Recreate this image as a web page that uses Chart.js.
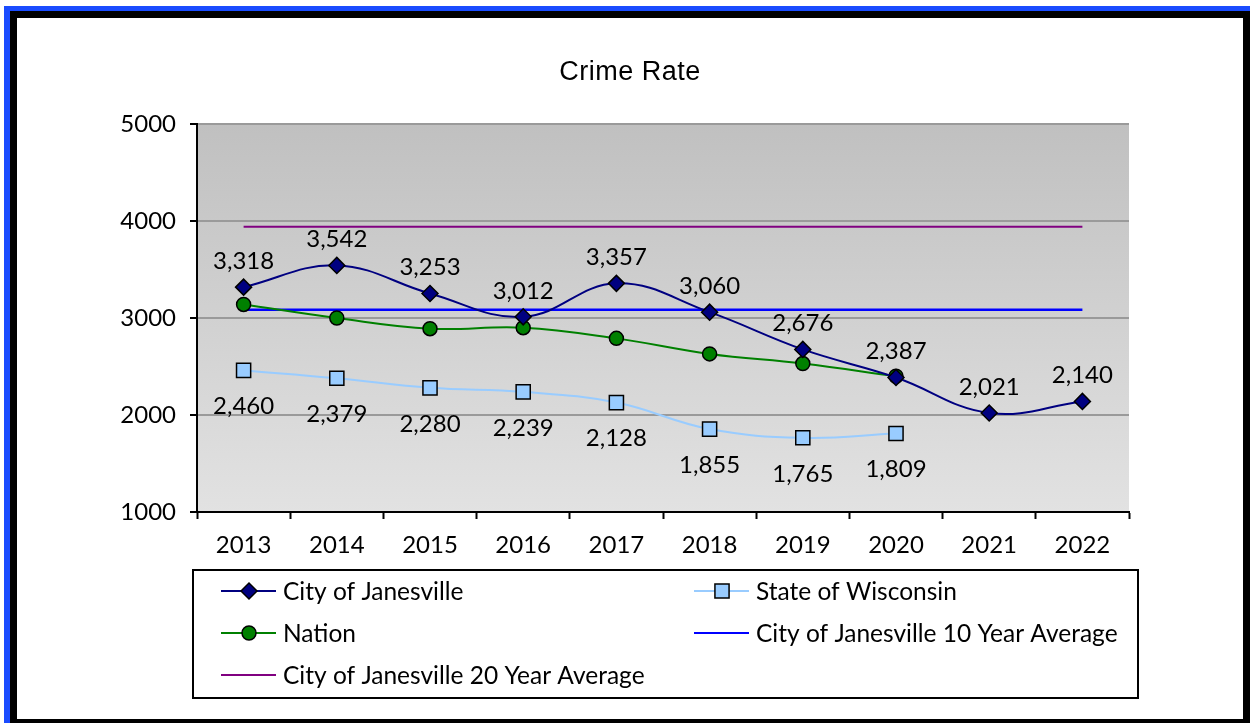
<!DOCTYPE html>
<html><head><meta charset="utf-8">
<script src="https://cdn.jsdelivr.net/npm/chart.js@4.4.0/dist/chart.umd.min.js"></script>
<style>html,body{margin:0;padding:0;background:#fff;overflow:hidden}#wrap{width:1250px;height:723px;position:relative}canvas{display:block}</style>
</head><body><div id="wrap"><canvas id="c" width="1250" height="723"></canvas></div>
<script>
const years = ['2013','2014','2015','2016','2017','2018','2019','2020','2021','2022'];
const janesville = [3318, 3542, 3253, 3012, 3357, 3060, 2676, 2387, 2021, 2140];
const wisconsin = [2460, 2379, 2280, 2239, 2128, 1855, 1765, 1809, null, null];
const nation = [3140, 3000, 2890, 2900, 2790, 2630, 2530, 2400, null, null];
const avg10 = [3085, 3085, 3085, 3085, 3085, 3085, 3085, 3085, 3085, 3085];
const avg20 = [3940, 3940, 3940, 3940, 3940, 3940, 3940, 3940, 3940, 3940];
const yTicks = [1000, 2000, 3000, 4000, 5000];
const titleText = 'Crime Rate';

const LATO = 'Lato, "Open Sans", sans-serif';

function drawMarker(ctx, style, r, x, y, fill) {
  ctx.save();
  ctx.fillStyle = fill; ctx.strokeStyle = '#000'; ctx.lineWidth = 1.5;
  ctx.beginPath();
  if (style === 'rectRot') {
    ctx.moveTo(x - r, y); ctx.lineTo(x, y - r); ctx.lineTo(x + r, y); ctx.lineTo(x, y + r); ctx.closePath();
  } else if (style === 'rect') {
    const s = r * Math.SQRT1_2; ctx.rect(x - s, y - s, 2 * s, 2 * s);
  } else {
    ctx.arc(x, y, r, 0, Math.PI * 2);
  }
  ctx.fill(); ctx.stroke();
  ctx.restore();
}

const framePlugin = {
  id: 'frame',
  beforeDraw(chart) {
    const ctx = chart.ctx, a = chart.chartArea;
    ctx.save();
    ctx.fillStyle = '#fff'; ctx.fillRect(0, 0, 1250, 723);
    ctx.fillStyle = '#1a4cff';
    ctx.fillRect(4, 6, 1246, 5); ctx.fillRect(4, 6, 6, 717);
    ctx.fillStyle = '#000';
    ctx.fillRect(10, 11, 1240, 7); ctx.fillRect(10, 11, 7, 712);
    ctx.fillRect(1243, 11, 7, 712); ctx.fillRect(10, 719, 1240, 4);
    const g = ctx.createLinearGradient(0, a.top, 0, a.bottom);
    g.addColorStop(0, '#c0c0c0'); g.addColorStop(1, '#e2e2e2');
    ctx.fillStyle = g; ctx.fillRect(a.left, a.top, a.right - a.left, a.bottom - a.top);
    ctx.restore();
  },
  afterDatasetsDraw(chart) {
    const ctx = chart.ctx;
    ctx.save();
    ctx.fillStyle = '#000'; ctx.font = '24px ' + LATO; ctx.textAlign = 'center'; ctx.textBaseline = 'middle';
    const fmt = v => v.toLocaleString('en-US');
    chart.getDatasetMeta(0).data.forEach((p, i) => { ctx.fillText(fmt(janesville[i]), p.x, p.y - 26); });
    chart.getDatasetMeta(1).data.forEach((p, i) => { if (wisconsin[i] != null) ctx.fillText(fmt(wisconsin[i]), p.x, p.y + 36); });
    ctx.restore();
  },
  afterDraw(chart) {
    const ctx = chart.ctx;
    ctx.save();
    // title
    ctx.fillStyle = '#000'; ctx.font = '27px "Liberation Sans", Arial, sans-serif';
    ctx.textAlign = 'center'; ctx.textBaseline = 'alphabetic';
    ctx.letterSpacing = '0.5px';
    ctx.fillText(titleText, 630, 80);
    ctx.letterSpacing = '0px';
    // legend box
    ctx.strokeStyle = '#000'; ctx.lineWidth = 2;
    ctx.strokeRect(193, 570, 945, 128);
    const ds = chart.data.datasets;
    const slots = [[221, 591], [694, 591], [221, 633], [694, 633], [221, 675]];
    ds.forEach((d, i) => {
      const [x, y] = slots[i];
      ctx.strokeStyle = d.borderColor; ctx.lineWidth = 2;
      ctx.beginPath(); ctx.moveTo(x, y); ctx.lineTo(x + 55, y); ctx.stroke();
      if (d.pointRadius > 0) drawMarker(ctx, d.pointStyle, d.pointRadius, x + 28, y, d.pointBackgroundColor);
      ctx.fillStyle = '#000'; ctx.font = '24.5px ' + LATO; ctx.textAlign = 'left'; ctx.textBaseline = 'middle';
      ctx.fillText(d.label, x + 62, y + 1);
    });
    ctx.restore();
  }
};

new Chart(document.getElementById('c'), {
  type: 'line',
  data: {
    labels: years,
    datasets: [
      { label: 'City of Janesville', data: janesville, borderColor: '#000080', pointBackgroundColor: '#000080', pointBorderColor: '#000', pointBorderWidth: 1.5, pointStyle: 'rectRot', pointRadius: 8, borderWidth: 2, tension: 0.4 },
      { label: 'State of Wisconsin', data: wisconsin, borderColor: '#99ccff', pointBackgroundColor: '#99ccff', pointBorderColor: '#000', pointBorderWidth: 1.5, pointStyle: 'rect', pointRadius: 10, borderWidth: 2, tension: 0.4 },
      { label: 'Nation', data: nation, borderColor: '#008000', pointBackgroundColor: '#008000', pointBorderColor: '#000', pointBorderWidth: 1.5, pointStyle: 'circle', pointRadius: 7, borderWidth: 2, tension: 0.4 },
      { label: 'City of Janesville 10 Year Average', data: avg10, borderColor: '#0000ff', pointRadius: 0, borderWidth: 2.5 },
      { label: 'City of Janesville 20 Year Average', data: avg20, borderColor: '#800080', pointRadius: 0, borderWidth: 2 }
    ]
  },
  options: {
    responsive: false, animation: false, devicePixelRatio: 1,
    layout: { padding: { left: 20, top: 124, right: 121, bottom: 161 } },
    plugins: { legend: { display: false }, title: { display: false }, tooltip: { enabled: false } },
    scales: {
      x: {
        offset: true,
        grid: { offset: true, drawOnChartArea: false, tickLength: 7, tickColor: '#000', tickWidth: 2 },
        border: { color: '#000', width: 2 },
        ticks: { color: '#000', font: { family: LATO, size: 24 }, padding: 12, maxRotation: 0 },
        afterFit(s) { s.height = 50; }
      },
      y: {
        min: 1000, max: 5000,
        afterBuildTicks(s) { s.ticks = yTicks.map(v => ({ value: v })); },
        grid: { color: '#9a9a9a', lineWidth: 2, tickLength: 7, tickColor: '#000', tickWidth: 2 },
        border: { color: '#000', width: 2 },
        ticks: { color: '#000', font: { family: LATO, size: 24 }, padding: 14, callback: v => String(v) },
        afterFit(s) { s.width = 177; }
      }
    }
  },
  plugins: [framePlugin]
});
</script>
</body></html>
